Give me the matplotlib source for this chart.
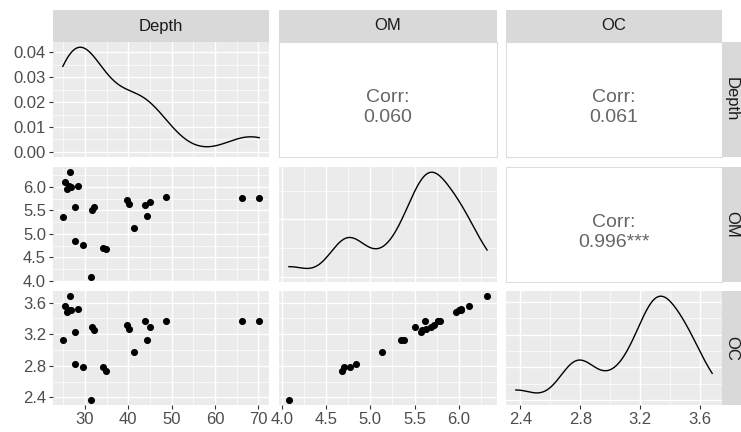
import numpy as np
import matplotlib
matplotlib.use("Agg")
import matplotlib.pyplot as plt
from matplotlib.ticker import MultipleLocator, MaxNLocator

plt.rcParams["font.family"] = ["Liberation Sans", "DejaVu Sans"]

# data
depth = [24.9, 26.5, 25.5, 25.8, 26.3, 26.9, 28.5, 27.8, 27.8, 29.5, 31.4, 32.0,
         31.7, 34.2, 34.8, 39.8, 40.1, 41.4, 43.8, 45.1, 44.4, 48.7, 66.3, 70.2]
om = [5.35, 6.32, 6.11, 5.97, 6.03, 6.00, 6.03, 5.57, 4.84, 4.77, 4.08, 5.58,
      5.50, 4.70, 4.68, 5.72, 5.63, 5.13, 5.62, 5.69, 5.38, 5.79, 5.76, 5.76]
oc = [3.12, 3.68, 3.55, 3.48, 3.51, 3.50, 3.52, 3.23, 2.82, 2.79, 2.37, 3.25,
      3.29, 2.78, 2.73, 3.32, 3.26, 2.98, 3.37, 3.29, 3.12, 3.37, 3.36, 3.36]

var_names = ["Depth", "OM", "OC"]
corr_text = {(0, 1): "0.060", (0, 2): "0.061", (1, 2): "0.996***"}

x_breaks = [[30, 40, 50, 60, 70], [4.0, 4.5, 5.0, 5.5, 6.0], [2.4, 2.8, 3.2, 3.6]]
x_labels = [["30", "40", "50", "60", "70"], ["4.0", "4.5", "5.0", "5.5", "6.0"],
            ["2.4", "2.8", "3.2", "3.6"]]
y_breaks = [[0.00, 0.01, 0.02, 0.03, 0.04], [4.0, 4.5, 5.0, 5.5, 6.0], [2.4, 2.8, 3.2, 3.6]]
y_labels = [["0.00", "0.01", "0.02", "0.03", "0.04"],
            ["4.0", "4.5", "5.0", "5.5", "6.0"], ["2.4", "2.8", "3.2", "3.6"]]

data = [np.array(depth), np.array(om), np.array(oc)]


def kde(v, n=512):
    sd = v.std(ddof=1)
    iqr = np.subtract(*np.percentile(v, [75, 25]))
    bw = 0.9 * min(sd, iqr / 1.34) * len(v) ** -0.2
    xs = np.linspace(v.min(), v.max(), n)
    ys = np.exp(-0.5 * ((xs[:, None] - v[None, :]) / bw) ** 2).sum(1)
    ys = ys / (len(v) * bw * np.sqrt(2 * np.pi))
    return xs, ys


def expand(lo, hi, f=0.05):
    d = (hi - lo) * f
    return lo - d, hi + d


W, H = 741, 432
cols = [(53, 269), (279, 497), (506, 722)]
rows = [(42, 157), (167, 282), (291, 405)]

fig = plt.figure(figsize=(W / 100, H / 100), dpi=100)


def box(x0, x1, y0, y1):
    return [x0 / W, 1 - y1 / H, (x1 - x0) / W, (y1 - y0) / H]


bg = "#EBEBEB"
tick_col = "#4D4D4D"
fs = 12

for i in range(3):
    for j in range(3):
        ax = fig.add_axes(box(cols[j][0], cols[j][1], rows[i][0], rows[i][1]))
        xlim = expand(data[j].min(), data[j].max())
        ax.set_xlim(xlim)
        for s in ax.spines.values():
            s.set_visible(False)
        if j > i:
            # upper: correlation text
            ax.set_facecolor("white")
            for s in ax.spines.values():
                s.set_visible(True)
                s.set_color("#DDDDDD")
                s.set_linewidth(0.8)
            ax.set_xticks([])
            ax.set_yticks([])
            ax.text(0.5, 0.52, "Corr:", transform=ax.transAxes,
                    ha="center", va="center", fontsize=14, color="#666666")
            ax.text(0.5, 0.34, corr_text[(i, j)], transform=ax.transAxes,
                    ha="center", va="center", fontsize=14, color="#666666")
            continue
        ax.set_facecolor(bg)
        ax.set_axisbelow(True)
        if i == j:
            xs, ys = kde(data[j])
            ax.plot(xs, ys, color="black", lw=1.0)
            ax.set_ylim(expand(0, ys.max()))
            if i == 0:
                ax.yaxis.set_major_locator(MultipleLocator(0.01))
                ax.yaxis.set_minor_locator(MultipleLocator(0.005))
            else:
                ax.yaxis.set_major_locator(MaxNLocator(nbins=4, steps=[1, 2, 2.5, 5, 10]))
                mj = ax.get_yticks()
                step = mj[1] - mj[0]
                ax.yaxis.set_minor_locator(MultipleLocator(step / 2))
        else:
            ax.scatter(data[j], data[i], s=26, color="black", linewidths=0, zorder=3)
            ax.set_ylim(expand(data[i].min(), data[i].max()))
            ax.set_yticks(y_breaks[i])
            step = y_breaks[i][1] - y_breaks[i][0]
            ax.yaxis.set_minor_locator(MultipleLocator(step / 2))
        ax.set_xticks(x_breaks[j])
        xstep = x_breaks[j][1] - x_breaks[j][0]
        ax.xaxis.set_minor_locator(MultipleLocator(xstep / 2))
        ax.grid(True, which="major", color="white", lw=1.0)
        ax.grid(True, which="minor", color="white", lw=0.5)
        ax.tick_params(which="minor", length=0)
        ax.tick_params(which="major", length=3, width=0.8, color="#333333",
                       labelsize=fs, labelcolor=tick_col, pad=2)
        if i == 0 and j == 0:
            ax.set_yticks(y_breaks[0])
            ax.set_yticklabels(y_labels[0])
        elif j == 0:
            ax.set_yticklabels(y_labels[i])
        else:
            ax.tick_params(axis="y", which="major", length=0, labelleft=False)
        if i == 2:
            ax.set_xticklabels(x_labels[j])
        else:
            ax.tick_params(axis="x", which="major", length=0, labelbottom=False)

# strips
strip_col = "#D9D9D9"
for j in range(3):
    sax = fig.add_axes(box(cols[j][0], cols[j][1], 10, 42))
    sax.set_facecolor(strip_col)
    sax.set_xticks([])
    sax.set_yticks([])
    for s in sax.spines.values():
        s.set_visible(False)
    sax.text(0.5, 0.5, var_names[j], ha="center", va="center", fontsize=fs,
             color="#1A1A1A", transform=sax.transAxes)
for i in range(3):
    sax = fig.add_axes(box(722, 741, rows[i][0], rows[i][1]))
    sax.set_facecolor(strip_col)
    sax.set_xticks([])
    sax.set_yticks([])
    for s in sax.spines.values():
        s.set_visible(False)
    sax.text(0.5, 0.5, var_names[i], ha="center", va="center", fontsize=fs,
             color="#1A1A1A", rotation=-90, transform=sax.transAxes)

fig.savefig("out.png", dpi=100, facecolor="white")
